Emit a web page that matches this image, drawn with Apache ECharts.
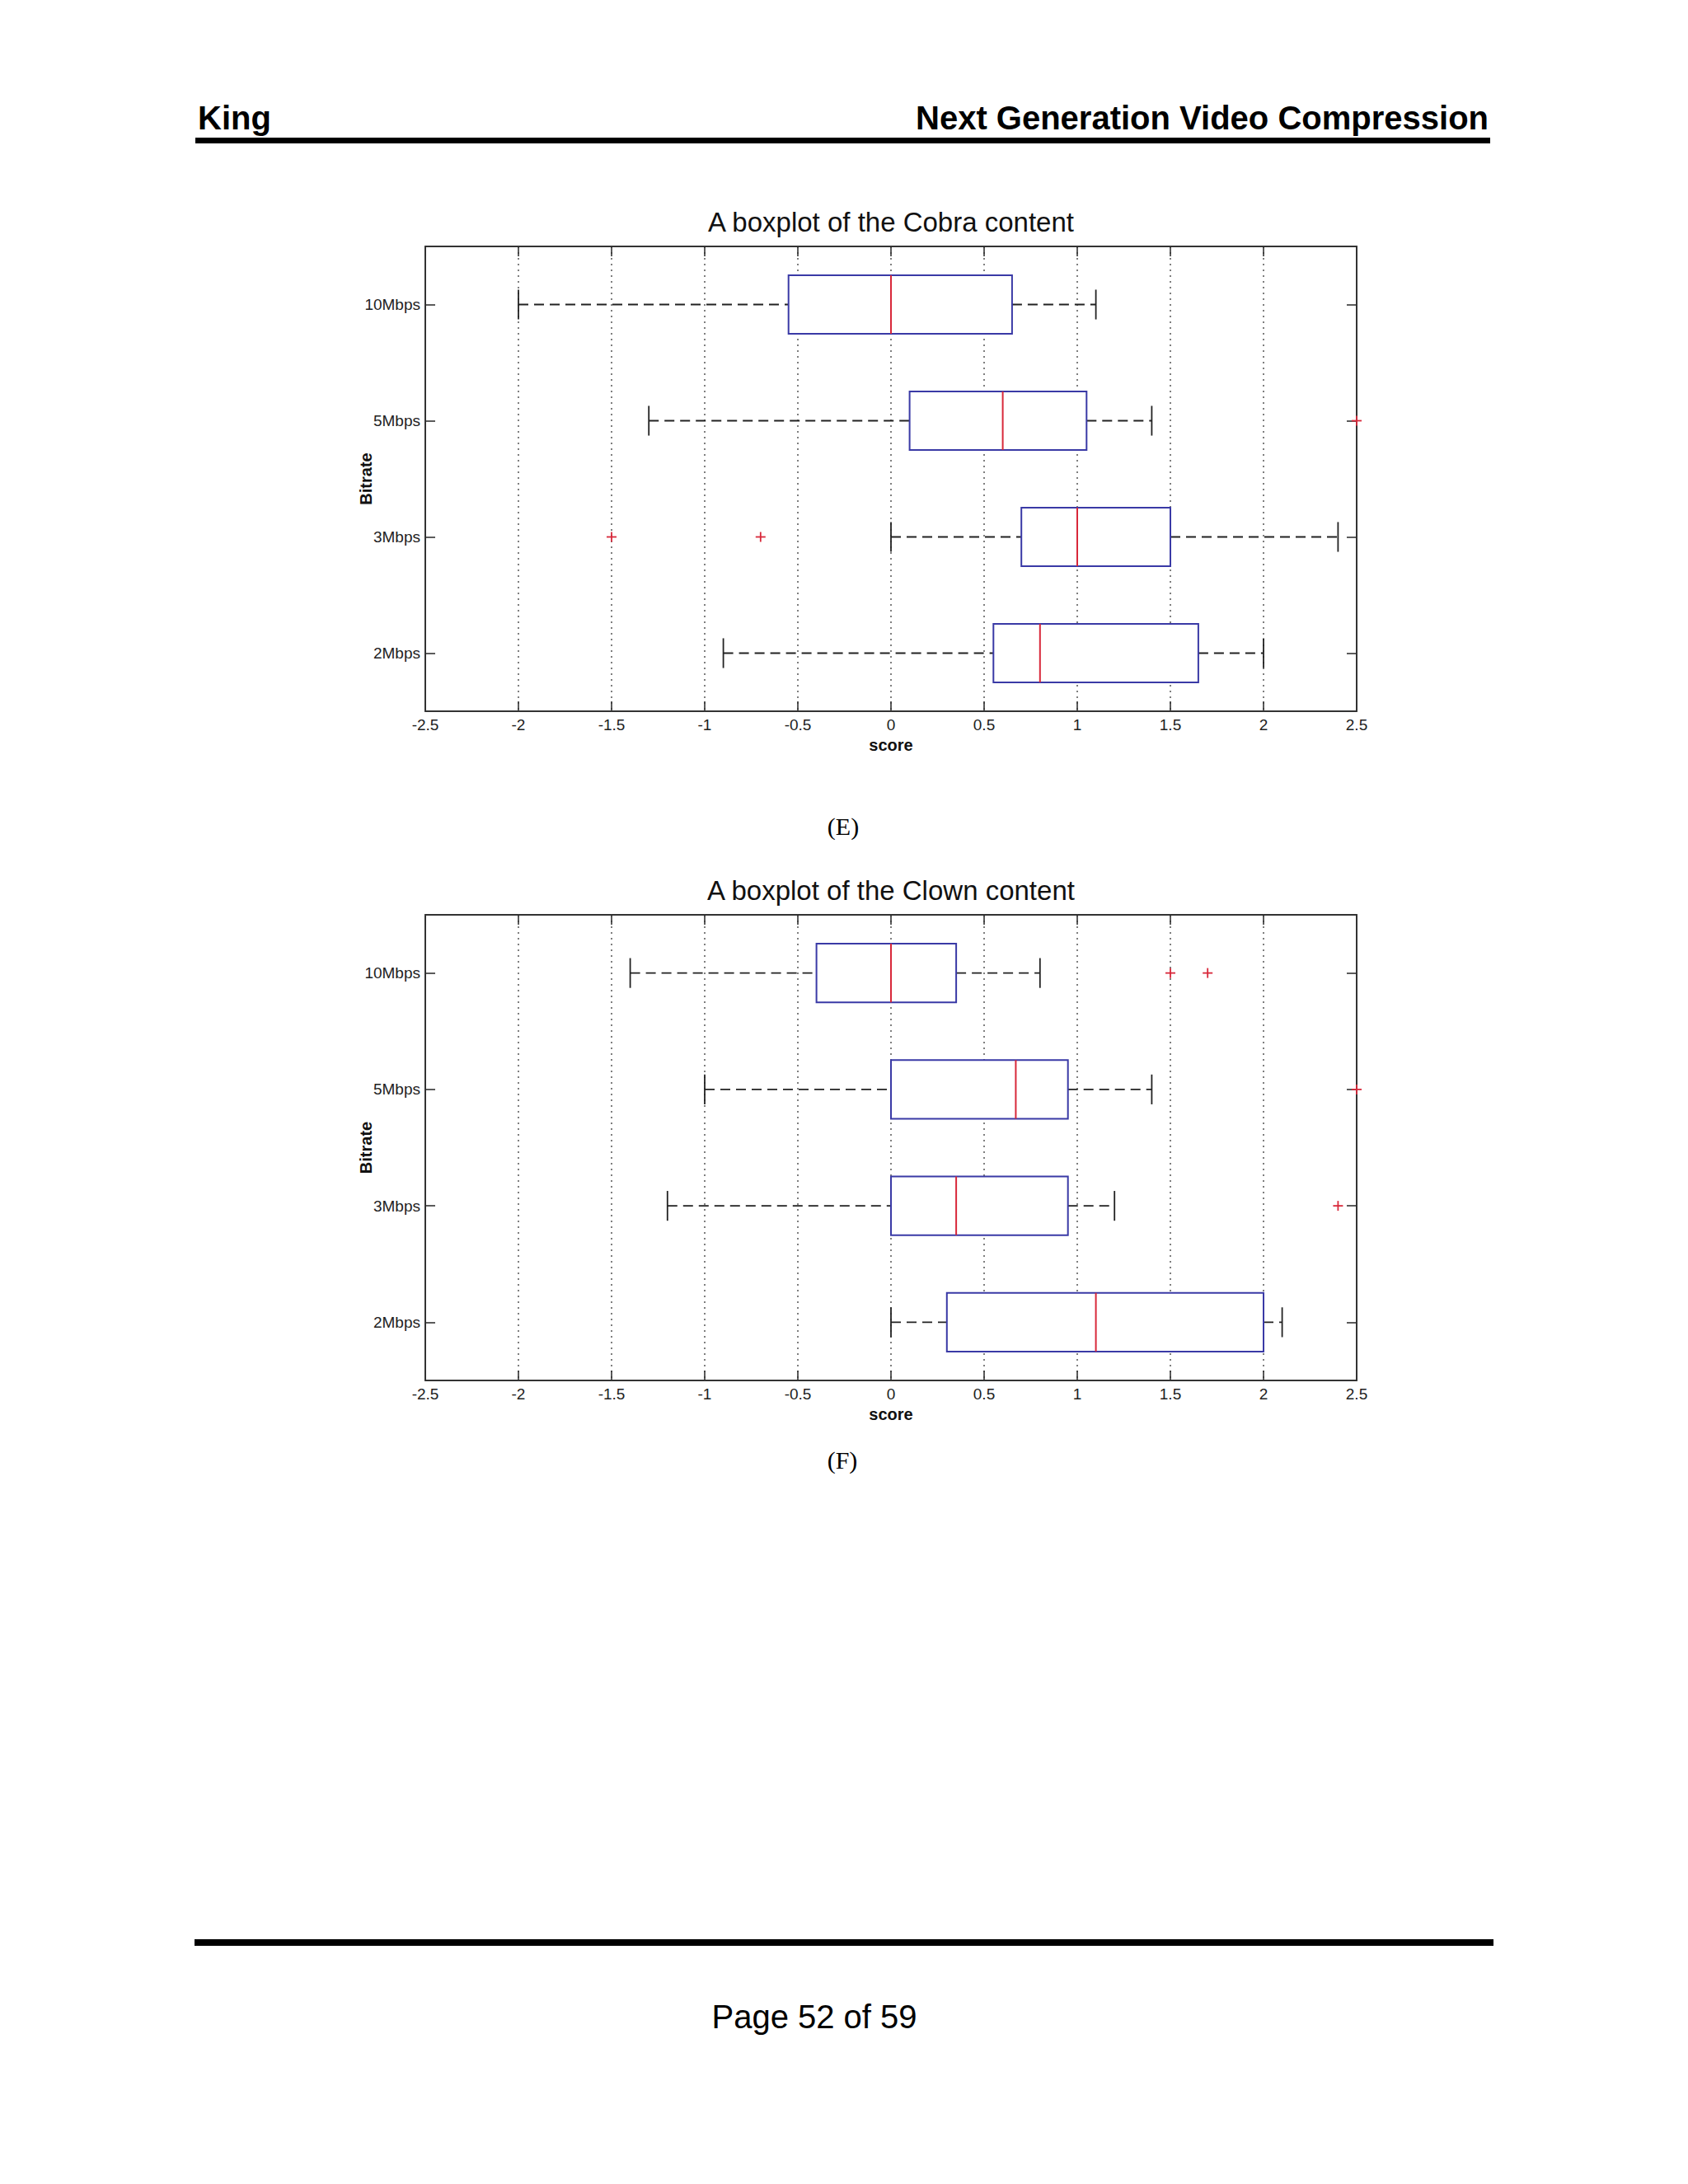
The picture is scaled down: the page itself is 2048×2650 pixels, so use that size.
<!DOCTYPE html>
<html>
<head>
<meta charset="utf-8">
<title>Boxplots of Cobra and Clown content</title>
<script src="https://cdn.jsdelivr.net/npm/echarts@6/dist/echarts.min.js"></script>
<style>
  html, body { margin: 0; padding: 0; background: #fff; }
  #page { width: 2048px; height: 2650px; }
</style>
</head>
<body>
<div id="page"></div>
<script>
// categories, bottom to top as drawn on the y axis
const bitrates = ["2Mbps", "3Mbps", "5Mbps", "10Mbps"];

// [lower whisker, Q1, median, Q3, upper whisker] per bitrate
const cobraStats = [
  [-0.9, 0.55, 0.8, 1.65, 2.0],
  [0, 0.7, 1.0, 1.5, 2.4],
  [-1.3, 0.1, 0.6, 1.05, 1.4],
  [-2.0, -0.55, 0, 0.65, 1.1],
];
const cobraOutliers = [["3Mbps", -1.5], ["3Mbps", -0.7], ["5Mbps", 2.5]];

const clownStats = [
  [0, 0.3, 1.1, 2.0, 2.1],
  [-1.2, 0, 0.35, 0.95, 1.2],
  [-1.0, 0, 0.67, 0.95, 1.4],
  [-1.4, -0.4, 0, 0.35, 0.8],
];
const clownOutliers = [["3Mbps", 2.4], ["5Mbps", 2.5], ["10Mbps", 1.5], ["10Mbps", 1.7]];

const font = '"Liberation Sans", Arial, sans-serif';
const boxBlue = "#3a3aa6";
const medianRed = "#d8283a";
const ink = "#222";

var chart = echarts.init(document.getElementById("page"), null, { renderer: "svg" });

// one box: dashed whiskers, end caps, blue box, red median
function renderBox(params, api) {
  var cat = api.value(0);
  var p = [1, 2, 3, 4, 5].map(function (d) {
    return api.coord([api.value(d), cat]);
  });
  var band = api.size([0, 1])[1];
  var y = p[0][1];
  var hb = band * 0.252;
  var hc = band * 0.128;
  var dash = { stroke: ink, lineWidth: 1.8, lineDash: [12, 7], fill: null };
  var solid = { stroke: ink, lineWidth: 1.8, fill: null };
  return {
    type: "group",
    children: [
      { type: "line", shape: { x1: p[0][0], y1: y, x2: p[1][0], y2: y }, style: dash },
      { type: "line", shape: { x1: p[3][0], y1: y, x2: p[4][0], y2: y }, style: dash },
      { type: "line", shape: { x1: p[0][0], y1: y - hc, x2: p[0][0], y2: y + hc }, style: solid },
      { type: "line", shape: { x1: p[4][0], y1: y - hc, x2: p[4][0], y2: y + hc }, style: solid },
      {
        type: "rect",
        shape: { x: p[1][0], y: y - hb, width: p[3][0] - p[1][0], height: 2 * hb },
        style: { fill: "#fff", stroke: boxBlue, lineWidth: 2 },
      },
      {
        type: "line",
        shape: { x1: p[2][0], y1: y - hb, x2: p[2][0], y2: y + hb },
        style: { stroke: medianRed, lineWidth: 2, fill: null },
      },
    ],
  };
}

// red "+" for an outlier
function renderPlus(params, api) {
  var c = api.coord([api.value(0), api.value(1)]);
  var s = 6;
  var st = { stroke: medianRed, lineWidth: 1.8, fill: null };
  return {
    type: "group",
    children: [
      { type: "line", shape: { x1: c[0] - s, y1: c[1], x2: c[0] + s, y2: c[1] }, style: st },
      { type: "line", shape: { x1: c[0], y1: c[1] - s, x2: c[0], y2: c[1] + s }, style: st },
    ],
  };
}

function boxData(stats) {
  return stats.map(function (s, i) {
    return [i].concat(s);
  });
}
function outlierData(list) {
  return list.map(function (o) {
    return [o[1], bitrates.indexOf(o[0])];
  });
}

function xAxisFor(gridIndex, position) {
  var bottom = position === "bottom";
  return {
    type: "value",
    gridIndex: gridIndex,
    position: position,
    min: -2.5,
    max: 2.5,
    interval: 0.5,
    name: bottom ? "score" : "",
    nameLocation: "middle",
    nameGap: 31,
    nameMoveOverlap: false,
    nameTextStyle: { fontFamily: font, fontSize: 20, fontWeight: "bold", color: "#111" },
    axisLine: { show: true, onZero: false, lineStyle: { color: "#333", width: 2 } },
    axisTick: { show: true, inside: true, length: 12, lineStyle: { color: "#333", width: 1.6 } },
    axisLabel: {
      show: bottom,
      margin: 7,
      fontFamily: font,
      fontSize: 19,
      color: ink,
      formatter: function (v) {
        return String(Math.round(v * 10) / 10);
      },
    },
    splitLine: {
      show: bottom,
      lineStyle: { color: "#555", width: 1.5, type: [2, 5] },
    },
  };
}

function yAxisFor(gridIndex, position) {
  var left = position === "left";
  return {
    type: "category",
    gridIndex: gridIndex,
    position: position,
    data: bitrates,
    name: left ? "Bitrate" : "",
    nameLocation: "middle",
    nameGap: 62,
    nameMoveOverlap: false,
    nameTextStyle: { fontFamily: font, fontSize: 20, fontWeight: "bold", color: "#111" },
    axisLine: { show: true, onZero: false, lineStyle: { color: "#333", width: 2 } },
    axisTick: { show: true, inside: true, alignWithLabel: true, length: 12, lineStyle: { color: "#333", width: 1.6 } },
    axisLabel: { show: left, margin: 6, fontFamily: font, fontSize: 19, color: ink },
    splitLine: { show: false },
  };
}

function chartTitle(text, top) {
  return {
    text: text,
    left: 1081,
    top: top,
    textAlign: "center",
    padding: 0,
    textStyle: { fontFamily: font, fontSize: 33, fontWeight: "normal", color: "#111" },
  };
}

function pageText(text, x, y, size, align, weight, family) {
  return {
    type: "text",
    x: x,
    y: y,
    style: {
      text: text,
      font: (weight || "normal") + " " + size + "px " + (family || font),
      fill: "#000",
      align: align,
      verticalAlign: "middle",
    },
  };
}

var option = {
  backgroundColor: "#fff",
  animation: false,
  title: [
    chartTitle("A boxplot of the Cobra content", 253),
    chartTitle("A boxplot of the Clown content", 1064),
  ],
  grid: [
    { left: 516, top: 299, width: 1130, height: 564, show: false },
    { left: 516, top: 1110, width: 1130, height: 565, show: false },
  ],
  xAxis: [xAxisFor(0, "bottom"), xAxisFor(0, "top"), xAxisFor(1, "bottom"), xAxisFor(1, "top")],
  yAxis: [yAxisFor(0, "left"), yAxisFor(0, "right"), yAxisFor(1, "left"), yAxisFor(1, "right")],
  series: [
    {
      type: "custom",
      name: "Cobra",
      xAxisIndex: 0,
      yAxisIndex: 0,
      renderItem: renderBox,
      encode: { x: [1, 2, 3, 4, 5], y: 0 },
      data: boxData(cobraStats),
      z: 3,
    },
    {
      type: "custom",
      name: "Cobra outliers",
      xAxisIndex: 0,
      yAxisIndex: 0,
      renderItem: renderPlus,
      encode: { x: 0, y: 1 },
      data: outlierData(cobraOutliers),
      clip: false,
      z: 4,
    },
    {
      type: "custom",
      name: "Clown",
      xAxisIndex: 2,
      yAxisIndex: 2,
      renderItem: renderBox,
      encode: { x: [1, 2, 3, 4, 5], y: 0 },
      data: boxData(clownStats),
      z: 3,
    },
    {
      type: "custom",
      name: "Clown outliers",
      xAxisIndex: 2,
      yAxisIndex: 2,
      renderItem: renderPlus,
      encode: { x: 0, y: 1 },
      data: outlierData(clownOutliers),
      clip: false,
      z: 4,
    },
  ],
  graphic: [
    pageText("King", 240, 143, 40, "left", "bold"),
    pageText("Next Generation Video Compression", 1806, 143, 40, "right", "bold"),
    { type: "rect", shape: { x: 237, y: 167, width: 1571, height: 7 }, style: { fill: "#000" } },
    pageText("(E)", 1023, 1002, 30, "center", "normal", '"Liberation Serif", "Times New Roman", serif'),
    pageText("(F)", 1022, 1771, 30, "center", "normal", '"Liberation Serif", "Times New Roman", serif'),
    { type: "rect", shape: { x: 236, y: 2353, width: 1576, height: 8 }, style: { fill: "#000" } },
    pageText("Page 52 of 59", 988, 2447, 40, "center", "normal"),
  ],
};

chart.setOption(option);
</script>
</body>
</html>
